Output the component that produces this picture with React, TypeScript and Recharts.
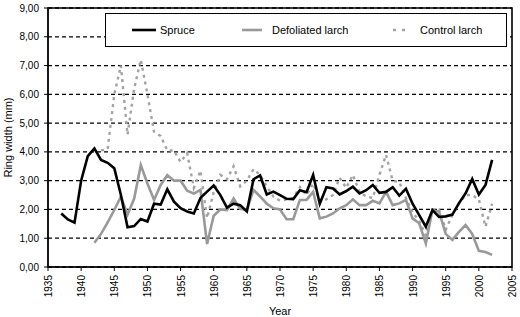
import { CartesianGrid, Line, LineChart, ReferenceArea, XAxis, YAxis } from "recharts";

const years = Array.from({ length: 66 }, (_, i) => 1937 + i);

// ring width (mm), Spruce from 1937
const spruce = [
  1.86, 1.65, 1.54, 3.0, 3.85, 4.12, 3.72, 3.62, 3.43, 2.5,
  1.38, 1.42, 1.67, 1.58, 2.2, 2.17, 2.7, 2.27, 2.04, 1.93,
  1.86, 2.4, 2.62, 2.83, 2.5, 2.06, 2.2, 2.15, 1.93, 3.05,
  3.18, 2.52, 2.62, 2.5, 2.37, 2.36, 2.67, 2.6, 3.2, 2.2,
  2.77, 2.73, 2.52, 2.64, 2.79, 2.56, 2.67, 2.85, 2.58, 2.61,
  2.77, 2.48, 2.72, 2.2, 1.8, 1.4, 1.98, 1.74, 1.76, 1.82,
  2.22, 2.56, 3.06, 2.52, 2.85, 3.72,
];

// Defoliated larch from 1942
const defoliatedStart = 1942;
const defoliated = [
  0.84, 1.15, 1.55, 1.98, 2.45, 1.82, 2.38, 3.54, 2.9, 2.33,
  2.85, 3.19, 3.0, 3.0, 2.65, 2.55, 2.68, 0.8, 1.78, 2.0,
  1.98, 2.38, 2.02, 1.98, 2.68, 2.45, 2.2, 2.04, 2.0, 1.66,
  1.66, 2.33, 2.33, 2.61, 1.69, 1.75, 1.86, 2.04, 2.15, 2.35,
  2.15, 2.15, 2.3, 2.21, 2.61, 2.15, 2.21, 2.33, 1.69, 1.52,
  0.82, 1.98, 1.92, 1.15, 0.94, 1.22, 1.46, 1.15, 0.56, 0.52,
  0.42,
];

// Control larch from 1943
const controlStart = 1943;
const control = [
  4.05, 4.1, 6.0, 7.0, 4.6, 6.2, 7.2, 6.0, 4.7, 4.55,
  4.05, 4.05, 3.65, 3.95, 2.75, 3.35, 1.7, 2.6, 3.2, 3.05,
  3.5, 2.8, 3.0, 3.4, 3.2, 2.8, 2.45, 2.3, 2.35, 2.4,
  2.78, 2.5, 2.9, 2.3, 2.35, 2.5, 3.1, 2.75, 3.2, 2.6,
  2.45, 2.4, 3.2, 3.9, 3.0, 2.95, 2.4, 1.9, 1.6, 1.1,
  2.0, 2.0, 1.3, 1.8, 2.2, 2.5, 2.5, 2.35, 1.4, 2.2,
];

const xTicks = [1935, 1940, 1945, 1950, 1955, 1960, 1965, 1970, 1975, 1980, 1985, 1990, 1995, 2000, 2005];
const yTicks = [0, 1, 2, 3, 4, 5, 6, 7, 8, 9];

const data = years.map((year, i) => ({
  year,
  spruce: spruce[i],
  defoliated: year >= defoliatedStart ? defoliated[year - defoliatedStart] : null,
  control: year >= controlStart ? control[year - controlStart] : null,
}));

const font = "Arial, 'Liberation Sans', sans-serif";

function YearTick({ x, y, payload }: any) {
  return (
    <text
      x={x}
      y={y}
      transform={`rotate(-90 ${x} ${y})`}
      textAnchor="end"
      dy="0.4em"
      fontSize={10}
      fontFamily={font}
      fill="#000"
    >
      {payload.value}
    </text>
  );
}

export default function App() {
  return (
    <div style={{ position: "absolute", left: 0, top: 0, width: 520, height: 317, background: "#fff", fontFamily: font }}>
      <LineChart width={520} height={317} data={data} margin={{ top: 8, right: 8, bottom: 0, left: 0 }}>
        <CartesianGrid vertical={false} stroke="#000" strokeDasharray="4 3" strokeWidth={1.3} />
        <XAxis
          dataKey="year"
          type="number"
          domain={[1935, 2005]}
          ticks={xTicks}
          height={50}
          tickSize={4}
          tickMargin={4}
          tick={<YearTick />}
          stroke="#000"
          interval={0}
          label={{ value: "Year", position: "insideBottom", offset: 2, fontSize: 11, fontFamily: font, fill: "#000" }}
        />
        <YAxis
          domain={[0, 9]}
          ticks={yTicks}
          width={48}
          tickSize={4}
          tickMargin={5}
          stroke="#000"
          interval={0}
          tick={{ fontSize: 10, fontFamily: font, fill: "#000" }}
          tickFormatter={(v: number) => v.toFixed(2).replace(".", ",")}
          label={{
            value: "Ring width (mm)",
            angle: -90,
            position: "insideLeft",
            offset: 8,
            fontSize: 11,
            fontFamily: font,
            fill: "#000",
            style: { textAnchor: "middle" },
          }}
        />
        <ReferenceArea x1={1935} x2={2005} y1={0} y2={9} fill="none" stroke="#000" strokeWidth={1.6} />
        <Line
          dataKey="control"
          stroke="#a3a3a3"
          strokeWidth={2.4}
          strokeDasharray="3 4"
          dot={false}
          isAnimationActive={false}
        />
        <Line dataKey="defoliated" stroke="#999999" strokeWidth={2.6} dot={false} isAnimationActive={false} />
        <Line dataKey="spruce" stroke="#000" strokeWidth={2.6} dot={false} isAnimationActive={false} />
      </LineChart>
      <div
        style={{
          position: "absolute",
          left: 105,
          top: 13,
          width: 400,
          height: 32,
          background: "#fff",
          border: "1.5px solid #000",
          fontSize: 11,
        }}
      >
        <svg width={400} height={32} style={{ position: "absolute", left: 0, top: 0 }}>
          <line x1={26} x2={50} y1={16} y2={16} stroke="#000" strokeWidth={2.6} />
          <line x1={136} x2={156} y1={16} y2={16} stroke="#999999" strokeWidth={2.6} />
          <line x1={287} x2={303} y1={16} y2={16} stroke="#a3a3a3" strokeWidth={2.4} strokeDasharray="3 6" />
          <text x={54} y={20} fontSize={11} fontFamily={font}>Spruce</text>
          <text x={166} y={20} fontSize={11} fontFamily={font}>Defoliated larch</text>
          <text x={314} y={20} fontSize={11} fontFamily={font}>Control larch</text>
        </svg>
      </div>
    </div>
  );
}
